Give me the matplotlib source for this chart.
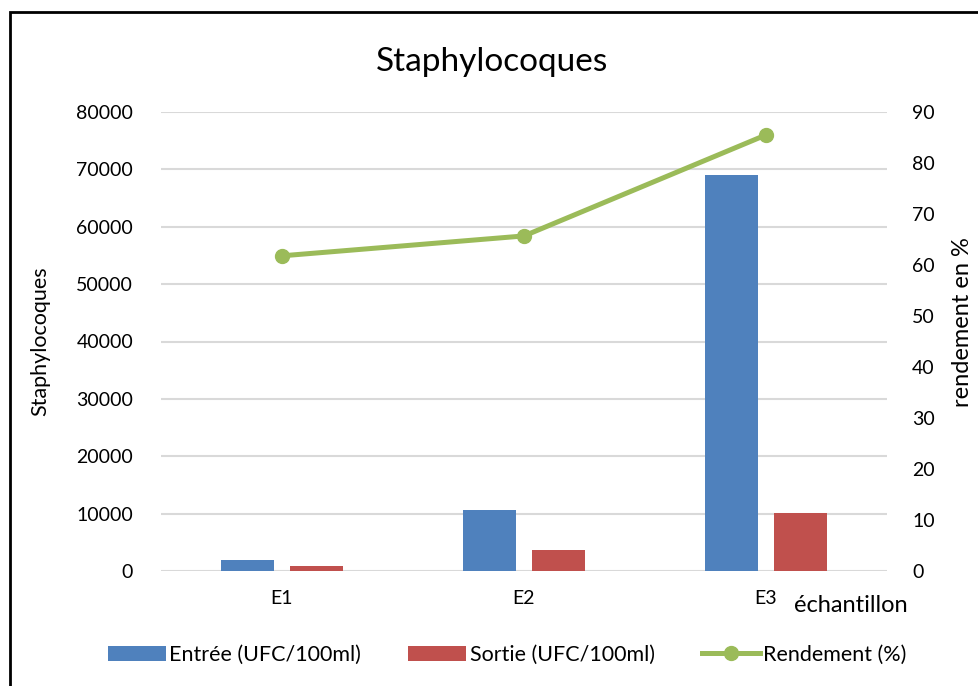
import matplotlib
matplotlib.use('Agg')
import matplotlib.pyplot as plt
import matplotlib.patches as mpatches
import numpy as np

plt.rcParams['font.family'] = ['Lato', 'DejaVu Sans']

categories = ['E1', 'E2', 'E3']
entree = [1900, 10600, 69000]
sortie = [900, 3650, 10100]
rendement = [61.8, 65.7, 85.5]

blue = '#4F81BD'
red = '#C0504D'
green = '#9BBB59'

fig = plt.figure(figsize=(9.79, 6.86), dpi=100)
ax = fig.add_axes([161/979, 1 - 571/686, 726/979, 459/686])
ax2 = ax.twinx()

x = np.arange(len(categories))
w = 0.222
ax.bar(x - 0.142, entree, w, color=blue, label='Entrée (UFC/100ml)', zorder=3)
ax.bar(x + 0.142, sortie, w, color=red, label='Sortie (UFC/100ml)', zorder=3)
ax2.plot(x, rendement, color=green, lw=3.6, marker='o', ms=10,
         label='Rendement (%)', zorder=4)

ax.set_xlim(-0.5, 2.5)
ax.set_ylim(0, 80000)
ax.set_yticks(range(0, 80001, 10000))
ax2.set_ylim(0, 90)
ax2.set_yticks(range(0, 91, 10))
ax.set_xticks(x)
ax.set_xticklabels(categories)
ax.grid(axis='y', color='#D9D9D9', lw=1.5, zorder=0)
ax.set_axisbelow(True)

for a in (ax, ax2):
    for s in a.spines.values():
        s.set_visible(False)
    a.tick_params(length=0, labelsize=14, colors='black')
ax.tick_params(axis='y', pad=20)
ax.tick_params(axis='x', pad=14)
ax2.tick_params(axis='y', pad=18)

ax.set_ylabel('Staphylocoques', fontsize=15.5)
ax.yaxis.set_label_coords(-0.153, 0.5)
ax2.set_ylabel('rendement en %', fontsize=17)
ax2.yaxis.set_label_coords(1.089, 0.542)
ax.text(1.029, -0.075, 'échantillon', transform=ax.transAxes, ha='right',
        va='center', fontsize=17)

fig.text(0.503, 1 - 62/686, 'Staphylocoques', ha='center', va='center', fontsize=24)

h1, l1 = ax.get_legend_handles_labels()
h2, l2 = ax2.get_legend_handles_labels()
fig.legend(h1 + h2, l1 + l2, loc='center', bbox_to_anchor=(0.518, 1 - 655/686),
           ncol=3, frameon=False, fontsize=15.5, handlelength=2.7,
           handletextpad=0.15, columnspacing=2.2)

border = mpatches.Rectangle((10/979, -0.1), 1.2, 1.1 - 12/686, transform=fig.transFigure,
                            fill=False, edgecolor='black', lw=2, clip_on=False)
fig.patches.append(border)

fig.savefig('out.png', dpi=100, facecolor='white')
